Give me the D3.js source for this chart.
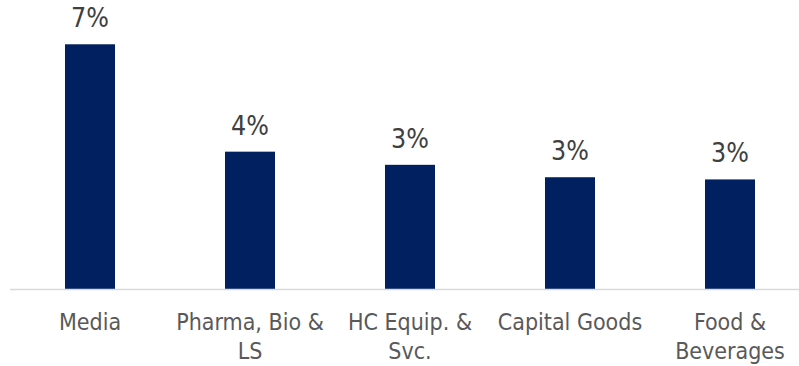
<!DOCTYPE html>
<html>
<head>
<meta charset="utf-8">
<script src="https://cdn.jsdelivr.net/npm/d3@7/dist/d3.min.js"></script>
<style>
  html, body { margin: 0; padding: 0; background: #fff; }
  svg { display: block; }
</style>
</head>
<body>
<svg id="chart" width="799" height="366"></svg>
<script>
// Sector weights (share of total)
const categories = ["Media", "Pharma, Bio &\nLS", "HC Equip. &\nSvc.", "Capital Goods", "Food &\nBeverages"];
const values = [0.067, 0.0376, 0.034, 0.0306, 0.030];

const width = 799, height = 366;
const baseline = 289;
const font = "'DejaVu Sans Condensed', 'DejaVu Sans', sans-serif";

const svg = d3.select("#chart");

const x = d3.scaleBand()
  .domain(categories)
  .range([10, 810])
  .paddingInner(0.6875)
  .paddingOuter(0.34375);

const y = d3.scaleLinear()
  .domain([0, 0.08])
  .range([baseline, -3.2]);

const data = categories.map((c, i) => ({ cat: c, value: values[i] }));

// Bars
svg.append("g")
  .selectAll("rect")
  .data(data)
  .join("rect")
  .attr("x", d => x(d.cat))
  .attr("y", d => y(d.value))
  .attr("width", x.bandwidth())
  .attr("height", d => y(0) - y(d.value))
  .attr("fill", "#00205F");

// Category axis line
svg.append("line")
  .attr("x1", 10).attr("x2", 799)
  .attr("y1", baseline + 0.5).attr("y2", baseline + 0.5)
  .attr("stroke", "#D9D9D9")
  .attr("stroke-width", 1.3);

// Value labels
svg.append("g")
  .selectAll("text")
  .data(data)
  .join("text")
  .attr("x", d => x(d.cat) + x.bandwidth() / 2)
  .attr("y", d => y(d.value) - 17)
  .attr("text-anchor", "middle")
  .attr("font-family", font)
  .attr("font-size", "26.5px")
  .attr("fill", "#404040")
  .text(d => d3.format(".0%")(d.value));

// Category labels (wrapped on explicit breaks)
const catLabels = svg.append("g")
  .selectAll("text")
  .data(data)
  .join("text")
  .attr("text-anchor", "middle")
  .attr("font-family", font)
  .attr("font-size", "23px")
  .attr("fill", "#595959");

catLabels.each(function(d) {
  const t = d3.select(this);
  const cx = x(d.cat) + x.bandwidth() / 2;
  d.cat.split("\n").forEach((line, i) => {
    t.append("tspan")
      .attr("x", cx)
      .attr("y", baseline + 41 + i * 28.5)
      .text(line);
  });
});
</script>
</body>
</html>
